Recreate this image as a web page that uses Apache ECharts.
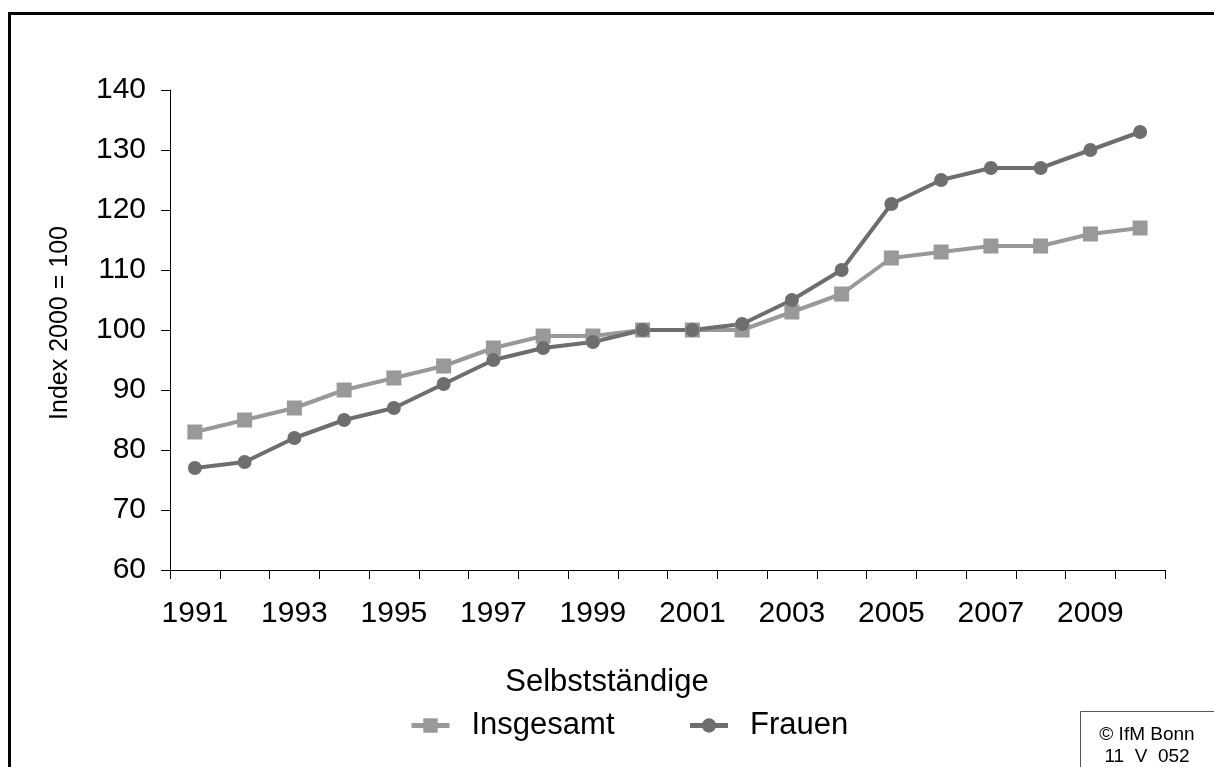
<!DOCTYPE html>
<html>
<head>
<meta charset="utf-8">
<script src="https://cdn.jsdelivr.net/npm/echarts@6/dist/echarts.min.js"></script>
<style>
  html, body { margin: 0; padding: 0; background: #fff; }
  #chart { width: 1214px; height: 767px; }
</style>
</head>
<body>
<div id="chart"></div>
<script>
  // Jahre (Kategorien)
  const years = ['1991', '1992', '1993', '1994', '1995', '1996', '1997', '1998', '1999', '2000',
                 '2001', '2002', '2003', '2004', '2005', '2006', '2007', '2008', '2009', '2010'];
  // Index 2000 = 100
  const insgesamt = [83, 85, 87, 90, 92, 94, 97, 99, 99, 100, 100, 100, 103, 106, 112, 113, 114, 114, 116, 117];
  const frauen = [77, 78, 82, 85, 87, 91, 95, 97, 98, 100, 100, 101, 105, 110, 121, 125, 127, 127, 130, 133];
  const seriesNames = ['Insgesamt', 'Frauen'];

  const font = 'Liberation Sans, Arial, sans-serif';
  const myChart = echarts.init(document.getElementById('chart'));

  const option = {
    backgroundColor: '#fff',
    animation: false,
    textStyle: { fontFamily: font, color: '#000' },
    title: {
      text: 'Selbstständige',
      left: 'center',
      top: 662,
      textStyle: { fontFamily: font, fontSize: 31, fontWeight: 'normal', color: '#000' }
    },
    legend: {
      data: seriesNames,
      left: 404,
      top: 705,
      itemWidth: 38,
      itemHeight: 18,
      itemGap: 73,
      lineStyle: { width: 5 },
      textStyle: { fontFamily: font, fontSize: 31, color: '#000', padding: [0, 0, 0, 17] }
    },
    grid: { left: 170, right: 49, top: 90, bottom: 197, containLabel: false },
    xAxis: {
      type: 'category',
      data: years,
      boundaryGap: true,
      axisLine: { lineStyle: { color: '#000', width: 1 } },
      axisTick: { show: true, interval: 0, length: 9, lineStyle: { color: '#000' } },
      axisLabel: { interval: 1, margin: 29, fontSize: 30, color: '#000', fontFamily: font }
    },
    yAxis: {
      type: 'value',
      min: 60,
      max: 140,
      interval: 10,
      name: 'Index 2000 = 100',
      nameLocation: 'middle',
      nameGap: 97,
      nameTextStyle: { fontFamily: font, fontSize: 25, color: '#000', padding: [0, 0, 0, 14] },
      splitLine: { show: false },
      axisLine: { show: true, lineStyle: { color: '#000', width: 1 } },
      axisTick: { show: true, length: 9, lineStyle: { color: '#000' } },
      axisLabel: { margin: 24, fontSize: 30, color: '#000', fontFamily: font }
    },
    series: [
      {
        name: seriesNames[0],
        type: 'line',
        data: insgesamt,
        symbol: 'rect',
        symbolSize: 15,
        color: '#999999',
        lineStyle: { width: 4, color: '#999999' },
        itemStyle: { color: '#999999' }
      },
      {
        name: seriesNames[1],
        type: 'line',
        data: frauen,
        symbol: 'circle',
        symbolSize: 14,
        color: '#6e6e6e',
        lineStyle: { width: 4, color: '#6e6e6e' },
        itemStyle: { color: '#6e6e6e' }
      }
    ],
    graphic: [
      // Rahmen
      {
        type: 'rect',
        shape: { x: 9.5, y: 13.5, width: 1300, height: 900 },
        style: { fill: 'none', stroke: '#000', lineWidth: 3 },
        silent: true
      },
      // Quellenbox
      {
        type: 'group',
        left: 1080,
        top: 711,
        children: [
          {
            type: 'rect',
            shape: { x: 0.5, y: 0.5, width: 200, height: 100 },
            style: { fill: '#fff', stroke: '#555', lineWidth: 1 }
          },
          {
            type: 'text',
            x: 67, y: 24,
            style: { text: '© IfM Bonn', fontFamily: font, fontSize: 19, fill: '#000', textAlign: 'center', textVerticalAlign: 'middle' }
          },
          {
            type: 'text',
            x: 67, y: 46,
            style: { text: '11  V  052', fontFamily: font, fontSize: 19, fill: '#000', textAlign: 'center', textVerticalAlign: 'middle' }
          }
        ]
      }
    ]
  };

  myChart.setOption(option);
</script>
</body>
</html>
